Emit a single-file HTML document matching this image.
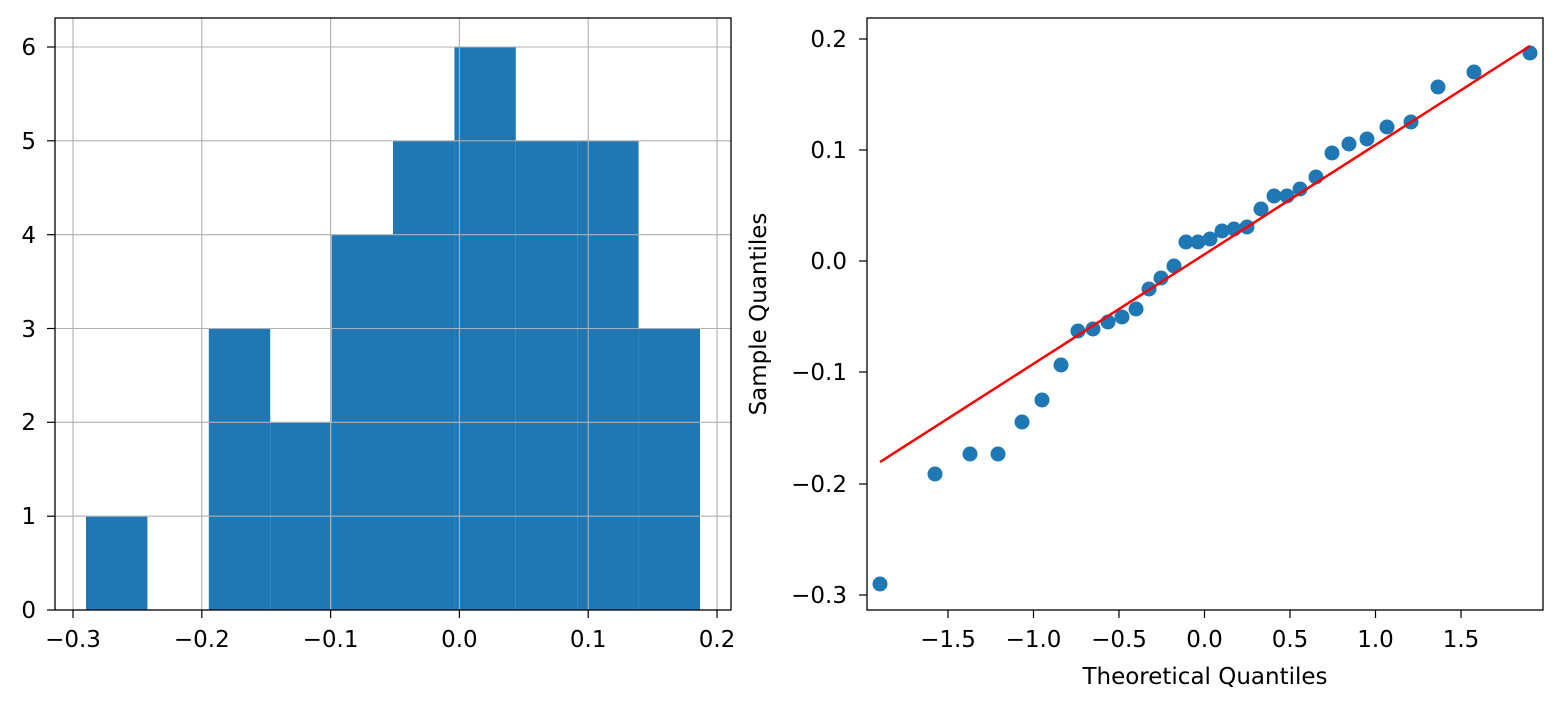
<!DOCTYPE html>
<html><head><style>
body{margin:0;background:#fff;}
svg text{font-family:"DejaVu Sans","Liberation Sans",sans-serif;font-size:23px;fill:#000;}
</style></head><body>
<svg width="1562" height="711" xmlns="http://www.w3.org/2000/svg">
<rect width="1562" height="711" fill="#fff"/>
<g fill="#1f77b4">
<rect x="86" y="516.2" width="61.4" height="93.8"/>
<rect x="208.8" y="328.5" width="61.4" height="281.5"/>
<rect x="270.2" y="422.3" width="61.4" height="187.7"/>
<rect x="331.6" y="234.7" width="61.4" height="375.3"/>
<rect x="393" y="140.8" width="61.4" height="469.2"/>
<rect x="454.4" y="47" width="61.4" height="563"/>
<rect x="515.8" y="140.8" width="61.4" height="469.2"/>
<rect x="577.2" y="140.8" width="61.4" height="469.2"/>
<rect x="638.6" y="328.5" width="61.4" height="281.5"/>
</g>
<g stroke="#b0b0b0" stroke-width="1.1">
<line x1="73" y1="18" x2="73" y2="610"/><line x1="201.8" y1="18" x2="201.8" y2="610"/><line x1="330.6" y1="18" x2="330.6" y2="610"/><line x1="459.4" y1="18" x2="459.4" y2="610"/><line x1="588.2" y1="18" x2="588.2" y2="610"/><line x1="717" y1="18" x2="717" y2="610"/>
<line x1="55" y1="610" x2="731" y2="610"/><line x1="55" y1="516.2" x2="731" y2="516.2"/><line x1="55" y1="422.3" x2="731" y2="422.3"/><line x1="55" y1="328.5" x2="731" y2="328.5"/><line x1="55" y1="234.7" x2="731" y2="234.7"/><line x1="55" y1="140.8" x2="731" y2="140.8"/><line x1="55" y1="47" x2="731" y2="47"/>
</g>
<rect x="55" y="18" width="676" height="592" fill="none" stroke="#000" stroke-width="1.3"/>
<g stroke="#000" stroke-width="1.2">
<line x1="73" y1="610" x2="73" y2="618"/><line x1="201.8" y1="610" x2="201.8" y2="618"/><line x1="330.6" y1="610" x2="330.6" y2="618"/><line x1="459.4" y1="610" x2="459.4" y2="618"/><line x1="588.2" y1="610" x2="588.2" y2="618"/><line x1="717" y1="610" x2="717" y2="618"/>
<line x1="47" y1="610" x2="55" y2="610"/><line x1="47" y1="516.2" x2="55" y2="516.2"/><line x1="47" y1="422.3" x2="55" y2="422.3"/><line x1="47" y1="328.5" x2="55" y2="328.5"/><line x1="47" y1="234.7" x2="55" y2="234.7"/><line x1="47" y1="140.8" x2="55" y2="140.8"/><line x1="47" y1="47" x2="55" y2="47"/>
</g>
<g text-anchor="middle">
<text x="73" y="647">−0.3</text><text x="201.8" y="647">−0.2</text><text x="330.6" y="647">−0.1</text><text x="459.4" y="647">0.0</text><text x="588.2" y="647">0.1</text><text x="717" y="647">0.2</text>
</g>
<g text-anchor="end">
<text x="36" y="618">0</text><text x="36" y="524">1</text><text x="36" y="430">2</text><text x="36" y="337">3</text><text x="36" y="243">4</text><text x="36" y="149">5</text><text x="36" y="55">6</text>
</g>
<rect x="867" y="18" width="676" height="592" fill="none" stroke="#000" stroke-width="1.3"/>
<g stroke="#000" stroke-width="1.2">
<line x1="948" y1="610" x2="948" y2="618"/><line x1="1033.5" y1="610" x2="1033.5" y2="618"/><line x1="1119" y1="610" x2="1119" y2="618"/><line x1="1204.5" y1="610" x2="1204.5" y2="618"/><line x1="1290" y1="610" x2="1290" y2="618"/><line x1="1375.5" y1="610" x2="1375.5" y2="618"/><line x1="1461" y1="610" x2="1461" y2="618"/>
<line x1="859" y1="39" x2="867" y2="39"/><line x1="859" y1="150" x2="867" y2="150"/><line x1="859" y1="261" x2="867" y2="261"/><line x1="859" y1="372" x2="867" y2="372"/><line x1="859" y1="484" x2="867" y2="484"/><line x1="859" y1="595" x2="867" y2="595"/>
</g>
<g text-anchor="middle">
<text x="948" y="647">−1.5</text><text x="1033.5" y="647">−1.0</text><text x="1119" y="647">−0.5</text><text x="1204.5" y="647">0.0</text><text x="1290" y="647">0.5</text><text x="1375.5" y="647">1.0</text><text x="1461" y="647">1.5</text>
<text x="1205" y="684">Theoretical Quantiles</text>
</g>
<g text-anchor="end">
<text x="847" y="47">0.2</text><text x="847" y="158">0.1</text><text x="847" y="269">0.0</text><text x="847" y="380">−0.1</text><text x="847" y="492">−0.2</text><text x="847" y="603">−0.3</text>
</g>
<text transform="translate(766,314) rotate(-90)" text-anchor="middle">Sample Quantiles</text>
<g fill="#1f77b4">
<circle cx="880" cy="584" r="7.5"/><circle cx="935" cy="474" r="7.5"/><circle cx="970" cy="454" r="7.5"/><circle cx="998" cy="454" r="7.5"/><circle cx="1022" cy="422" r="7.5"/><circle cx="1042" cy="400" r="7.5"/><circle cx="1061" cy="365" r="7.5"/><circle cx="1078" cy="331" r="7.5"/><circle cx="1093" cy="329" r="7.5"/><circle cx="1108" cy="322" r="7.5"/><circle cx="1122" cy="317" r="7.5"/><circle cx="1136" cy="309" r="7.5"/><circle cx="1149" cy="289" r="7.5"/><circle cx="1161" cy="278" r="7.5"/><circle cx="1174" cy="266" r="7.5"/><circle cx="1186" cy="242" r="7.5"/><circle cx="1198" cy="242" r="7.5"/><circle cx="1210" cy="239" r="7.5"/><circle cx="1222" cy="231" r="7.5"/><circle cx="1234" cy="229" r="7.5"/><circle cx="1247" cy="227" r="7.5"/><circle cx="1261" cy="209" r="7.5"/><circle cx="1274" cy="196" r="7.5"/><circle cx="1287" cy="196" r="7.5"/><circle cx="1300" cy="189" r="7.5"/><circle cx="1316" cy="177" r="7.5"/><circle cx="1332" cy="153" r="7.5"/><circle cx="1349" cy="144" r="7.5"/><circle cx="1367" cy="139" r="7.5"/><circle cx="1387" cy="127" r="7.5"/><circle cx="1411" cy="122" r="7.5"/><circle cx="1438" cy="87" r="7.5"/><circle cx="1474" cy="72" r="7.5"/><circle cx="1530" cy="53" r="7.5"/>
</g>
<line x1="880" y1="462" x2="1530" y2="46" stroke="#ff0000" stroke-width="2.5"/>
</svg>
</body></html>
